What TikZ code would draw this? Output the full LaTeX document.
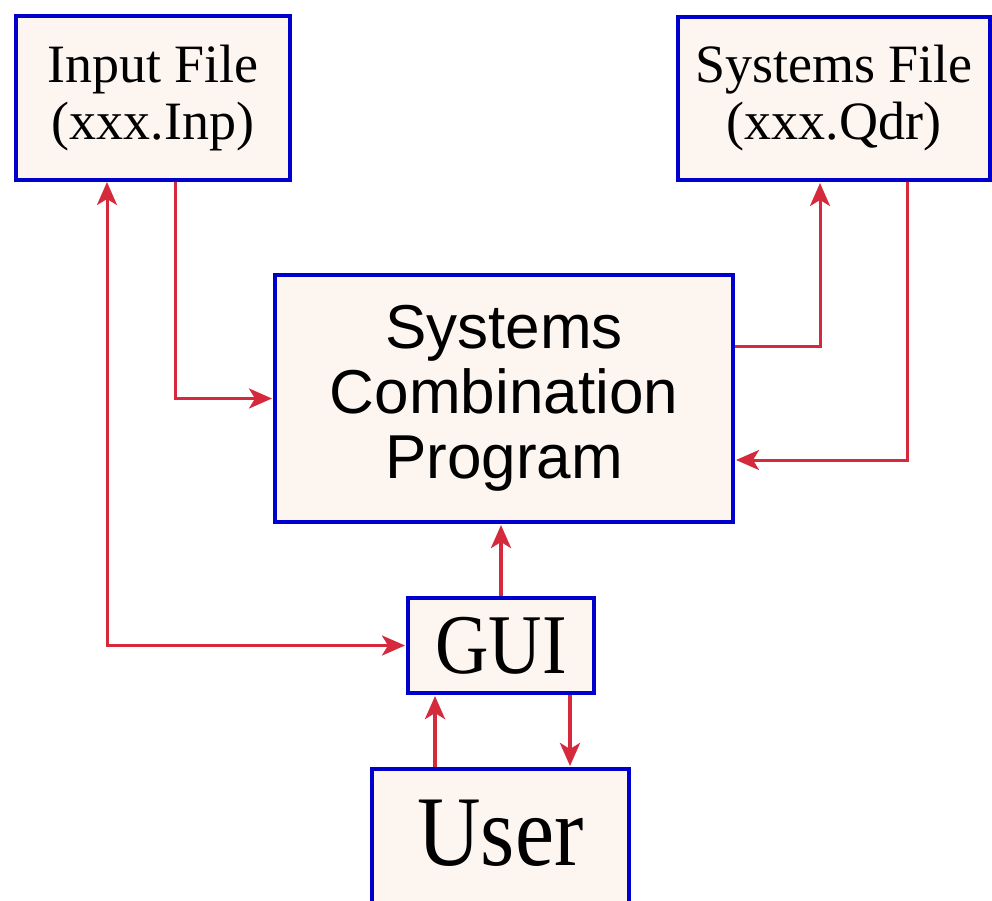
\documentclass[tikz,border=0pt]{standalone}
\usepackage{fontspec}
\setmainfont{Liberation Serif}
\setsansfont{Liberation Sans}
\usetikzlibrary{arrows.meta}
\definecolor{BoxClr}{RGB}{0,0,204}
\definecolor{FillClr}{RGB}{253,245,240}
\definecolor{LinkClr}{RGB}{212,42,60}

\begin{document}
\begin{tikzpicture}[x=1pt,y=-1pt,
  head/.tip={Stealth[length=23pt,width=20pt,inset=6pt]},
  box/.style={draw=BoxClr,fill=FillClr,line width=4pt,inner sep=0pt,
    align=center,anchor=north west},
  link/.style={draw=LinkClr,line width=3pt,shorten >=1pt,-head},
  thick link/.style={link,line width=4pt}]
\useasboundingbox (0,0) rectangle (992,900);

% files, program and front end
\node[box,minimum width=274pt,minimum height=164pt,
  font=\fontsize{54}{57}\selectfont] (inp) at (14,14)
  {Input File\\(xxx.Inp)};
\node[box,minimum width=312pt,minimum height=163pt,
  font=\fontsize{54}{57}\selectfont] (sys) at (676,15)
  {Systems File\\(xxx.Qdr)};
\node[box,minimum width=458pt,minimum height=247pt,
  font=\sffamily\fontsize{62}{65}\selectfont] (scp) at (273,273)
  {Systems\\Combination\\Program};
\node[box,minimum width=186pt,minimum height=95pt] (gui) at (406,596)
  {\scalebox{0.87}[1]{\fontsize{85}{85}\selectfont GUI}};
\node[box,anchor=north,minimum width=257pt,inner ysep=30pt,
  text height=66pt,text depth=100pt] (user) at (500.5,767)
  {\scalebox{0.88}[1]{\fontsize{100}{100}\selectfont User}};

% data flow
\draw[link] ([xshift=22pt]inp.south) |- (scp.west);
\draw[link,head-head] ([xshift=-46pt]inp.south) |- (gui.west);
\draw[link] ([yshift=52pt]scp.east) -| ([xshift=-14pt]sys.south);
\draw[link] ([xshift=73pt]sys.south) |- ([yshift=-61.5pt]scp.east);
\draw[thick link] (gui.north) -- (gui.north |- scp.south);

\coordinate (up) at ([xshift=-66pt]gui.south);
\coordinate (down) at ([xshift=69pt]gui.south);
\draw[thick link] (up |- user.north) -- (up);
\draw[thick link] (down) -- (down |- user.north);
\end{tikzpicture}
\end{document}
